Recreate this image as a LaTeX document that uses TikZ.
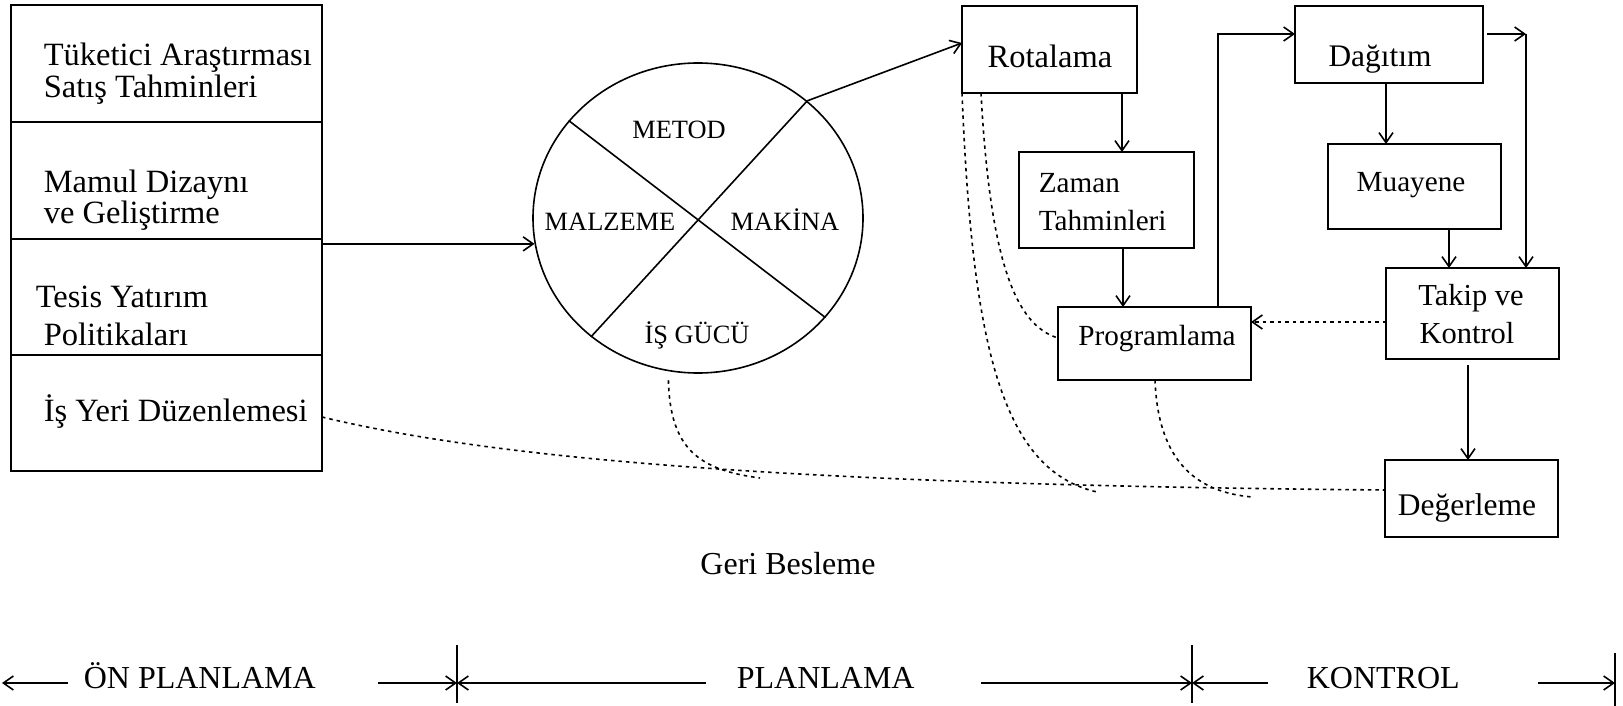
\documentclass[tikz,border=0pt]{standalone}
\usepackage{fontspec}
\setmainfont{Liberation Serif}
\usetikzlibrary{arrows.meta,shapes.geometric}
\newcommand{\fsz}[1]{\fontsize{#1}{#1}\selectfont}
\begin{document}
\begin{tikzpicture}[x=1pt,y=-1pt,
  line width=1.6pt,
  box/.style={draw, rectangle, anchor=north west, inner sep=0pt, outer sep=0pt},
  arr/.style={-{Straight Barb[length=10pt,width=14pt]}},
  fb/.style={dash pattern=on 3.5pt off 4pt},
  lt/.style={font=\fsz{32.5}, inner sep=0pt, anchor=base west},
  ct/.style={font=\fsz{26.4}, inner sep=0pt, anchor=base},
  rt/.style={font=\fsz{#1}, inner sep=0pt, anchor=base},
  rtw/.style={font=\fsz{#1}, inner sep=0pt, anchor=base west}
]
\useasboundingbox (0,0) rectangle (1623,706);

% left stack of preplanning topics
\node[box, minimum width=311pt, minimum height=117pt] (lb1) at (11,5) {};
\node[box, minimum width=311pt, minimum height=117pt] (lb2) at (11,122) {};
\node[box, minimum width=311pt, minimum height=116pt] (lb3) at (11,239) {};
\node[box, minimum width=311pt, minimum height=116pt] (lb4) at (11,355) {};
\node[lt] (l1a) at (43,66) {Tüketici Araştırması};
\node[lt] (l1b) at (43,98) {Satış Tahminleri};
\node[lt] (l2a) at (43,193) {Mamul Dizaynı};
\node[lt] (l2b) at (43,223) {ve Geliştirme};
\node[lt] (l3a) at (35,307) {Tesis Yatırım};
\node[lt] (l3b) at (43,345) {Politikaları};
\node[lt] (l4a) at (43,421) {İş Yeri Düzenlemesi};

% resources wheel
\node[draw, ellipse, minimum width=330pt, minimum height=310pt, inner sep=0pt] (circ) at (698,218) {};
\draw (circ.143) -- (circ.322);
\draw (circ.47) -- (circ.228);
\node[ct] (cm1) at (679,139) {METOD};
\node[ct] (cm2) at (610,230) {MALZEME};
\node[ct] (cm3) at (785,230) {MAKİNA};
\node[ct] (cm4) at (697,343) {İŞ GÜCÜ};

% planning and control boxes
\node[box, minimum width=175pt, minimum height=87pt] (rot) at (962,6) {};
\node[box, minimum width=175pt, minimum height=96pt] (zam) at (1019,152) {};
\node[box, minimum width=193pt, minimum height=73pt] (prog) at (1058,307) {};
\node[box, minimum width=188pt, minimum height=77pt] (dag) at (1295,6) {};
\node[box, minimum width=173pt, minimum height=85pt] (mua) at (1328,144) {};
\node[box, minimum width=173pt, minimum height=91pt] (tak) at (1386,268) {};
\node[box, minimum width=173pt, minimum height=77pt] (deg) at (1385,460) {};

\node[rt=32.5] (rotT) at (1050,68) {Rotalama};
\node[rtw=29.2] (zamT1) at (1038,193) {Zaman};
\node[rtw=29.2] (zamT2) at (1038,230) {Tahminleri};
\node[rt=29.2] (progT) at (1157,345) {Programlama};
\node[rt=31.4] (dagT) at (1380,67) {Dağıtım};
\node[rt=29.2] (muaT) at (1411,192) {Muayene};
\node[rt=30.5] (takT1) at (1471,305) {Takip ve};
\node[rt=30.5] (takT2) at (1467,343) {Kontrol};
\node[rt=31.5] (degT) at (1467,515) {Değerleme};

\node[rt=32] (geri) at (788,574) {Geri Besleme};

% solid flow
\coordinate (cin) at (circ.189);
\draw[arr] (lb3.east |- cin) -- (cin);
\draw[arr] (circ.47) -- (rot.west |- 0,43);
\draw[arr] (rot.south -| 1122,0) -- (zam.north -| 1122,0);
\draw[arr] (zam.south -| 1123,0) -- (prog.north -| 1123,0);
\draw[arr] (prog.north -| 1218,0) |- (dag.west |- 0,34);
\coordinate (dc) at (1526,34);
\draw[arr, shorten <=4pt] (dag.east |- dc) -- (dc);
\draw[arr] (dc) -- (tak.north -| dc);
\draw[arr] (dag.south -| 1386,0) -- (mua.north -| 1386,0);
\draw[arr] (mua.south -| 1449,0) -- (tak.north -| 1449,0);
\draw[arr, shorten <=6pt] (tak.south -| 1468,0) -- (deg.north -| 1468,0);

% feedback (dotted)
\draw[arr, fb] (tak.west |- 0,322) -- (prog.east |- 0,322);
\coordinate (fa) at (1097,492);
\coordinate (fc) at (1252,497);
\coordinate (fd) at (760,478);
\draw[fb] (rot.south west) .. controls (972,340) and (1000,470) .. (fa);
\draw[fb] (rot.south -| 981,0) .. controls (990,260) and (1015,325) .. (prog.west |- 0,338);
\draw[fb] (prog.south -| 1155,0) .. controls (1158,460) and (1195,492) .. (fc);
\draw[fb, shorten <=9pt] (circ.259) .. controls (670,450) and (700,470) .. (fd);
\draw[fb] (lb4.east |- 0,417) .. controls (500,460) and (800,485) .. (deg.west |- 0,490);

% phase axis
\coordinate (t0) at (2,683);
\coordinate (t0a) at (68,683);
\coordinate (t1a) at (378,683);
\coordinate (t1) at (457,683);
\coordinate (t1b) at (706,683);
\coordinate (t2a) at (981,683);
\coordinate (t2) at (1192,683);
\coordinate (t2b) at (1268,683);
\coordinate (t3a) at (1538,683);
\coordinate (t3) at (1615,683);
\draw ([yshift=38pt]t1) -- ([yshift=-20pt]t1);
\draw ([yshift=38pt]t2) -- ([yshift=-20pt]t2);
\draw ([yshift=30pt]t3) -- ([yshift=-23pt]t3);
\draw[arr] (t0a) -- (t0);
\draw[arr] (t1a) -- (t1);
\draw[arr] (t1b) -- (t1);
\draw[arr] (t2a) -- (t2);
\draw[arr] (t2b) -- (t2);
\draw[arr] (t3a) -- (t3);
\node[lt, font=\fsz{32}] (p1) at (83,688) {ÖN PLANLAMA};
\node[lt, font=\fsz{32}] (p2) at (736,688) {PLANLAMA};
\node[lt, font=\fsz{32}] (p3) at (1306,688) {KONTROL};
\end{tikzpicture}
\end{document}
